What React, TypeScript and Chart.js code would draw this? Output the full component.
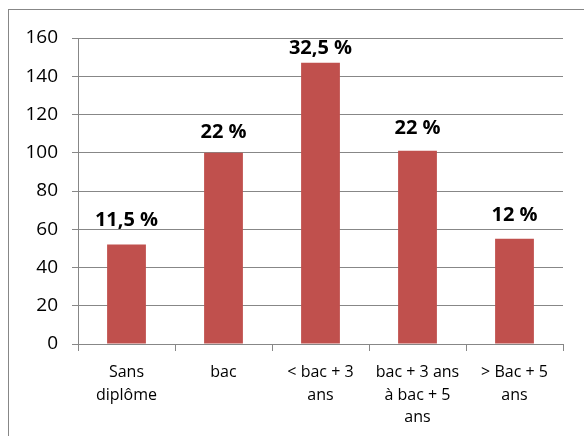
import React, { useEffect, useRef } from "react";
import { Chart, registerables } from "chart.js";

Chart.register(...registerables);

const categories: (string | string[])[] = [
  ["Sans", "diplôme"],
  "bac",
  ["< bac + 3", "ans"],
  ["bac + 3 ans", "à bac + 5", "ans"],
  ["> Bac + 5", "ans"],
];
const values = [52, 100, 147, 101, 55];
const valueLabels = ["11,5 %", "22 %", "32,5 %", "22 %", "12 %"];

const GRID = "#878787";
const FONT = "'Open Sans', Lato, sans-serif";

const labelGap = [19, 15, 9, 17, 18];

const labelsPlugin = {
  id: "valueLabels",
  afterDatasetsDraw(chart: any) {
    const ctx = chart.ctx;
    const meta = chart.getDatasetMeta(0);
    ctx.save();
    ctx.font = `bold 20px ${FONT}`;
    ctx.fillStyle = "#000";
    ctx.textAlign = "center";
    ctx.textBaseline = "alphabetic";
    meta.data.forEach((bar: any, i: number) => {
      ctx.fillText(valueLabels[i], bar.x, bar.y - labelGap[i]);
    });
    ctx.restore();
  },
};

const framePlugin = {
  id: "frame",
  beforeDraw(chart: any) {
    const ctx = chart.ctx;
    ctx.save();
    ctx.fillStyle = "#fff";
    ctx.fillRect(0, 0, chart.width, chart.height);
    ctx.strokeStyle = GRID;
    ctx.lineWidth = 1;
    ctx.strokeRect(8.5, 9.5, chart.width + 20, chart.height + 20);
    ctx.restore();
  },
};

export default function App() {
  const ref = useRef<HTMLCanvasElement | null>(null);
  useEffect(() => {
    if (!ref.current) return;
    const chart = new Chart(ref.current, {
      type: "bar",
      data: {
        labels: categories as any,
        datasets: [
          {
            data: values,
            backgroundColor: "#C0504D",
            barPercentage: 0.4,
            categoryPercentage: 1,
          },
        ],
      },
      options: {
        animation: false,
        responsive: false,
        maintainAspectRatio: false,
        layout: { padding: { top: 38, right: 21, left: 0, bottom: 0 } },
        plugins: { legend: { display: false }, tooltip: { enabled: false } },
        scales: {
          x: {
            grid: {
              display: true,
              drawOnChartArea: false,
              drawTicks: true,
              tickLength: 7,
              color: GRID,
              offset: true,
            },
            border: { color: GRID },
            ticks: {
              color: "#000",
              font: { family: FONT, size: 16, lineHeight: 1.42 },
              padding: 10,
              maxRotation: 0,
              autoSkip: false,
            },
            afterFit(scale: any) {
              scale.height = 92;
            },
          },
          y: {
            min: 0,
            max: 160,
            grid: { color: GRID, tickLength: 6 },
            border: { color: GRID },
            ticks: {
              stepSize: 20,
              color: "#000",
              font: { family: FONT, size: 19 },
              padding: 14,
            },
            afterFit(scale: any) {
              scale.width = 78;
            },
          },
        },
      },
      plugins: [framePlugin, labelsPlugin],
    });
    return () => chart.destroy();
  }, []);
  return (
    <div style={{ position: "absolute", left: 0, top: 0, width: 584, height: 436 }}>
      <canvas ref={ref} width={584} height={436} style={{ display: "block" }} />
    </div>
  );
}
